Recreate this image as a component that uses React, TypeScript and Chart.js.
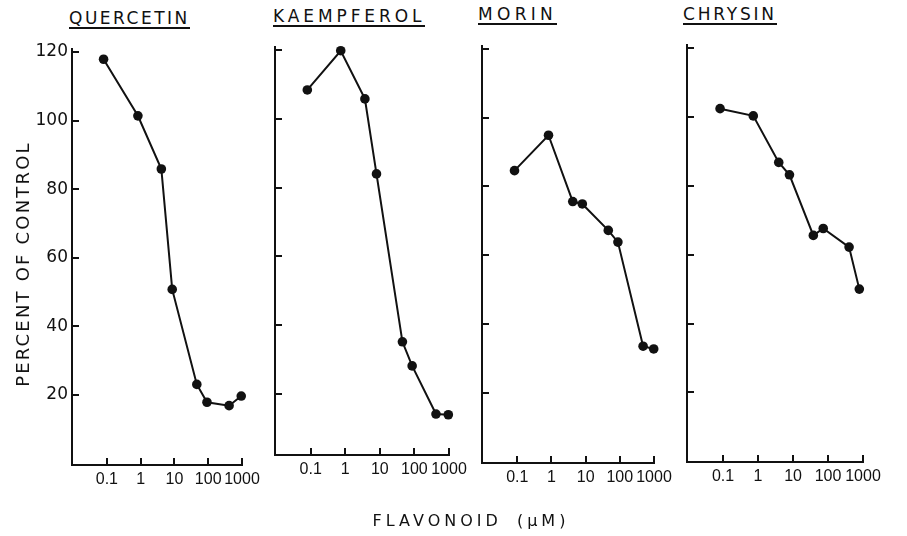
import React, { useEffect, useRef } from "react";
import { Chart, registerables } from "chart.js";

Chart.register(...registerables);

// ---- data ----
const panelTitles = ["QUERCETIN", "KAEMPFEROL", "MORIN", "CHRYSIN"];
const quercetinX = [0.08, 0.83, 4.1, 8.6, 46, 92, 415, 950];
const quercetinY = [117.9, 101.4, 85.9, 50.8, 23.1, 17.9, 16.9, 19.7];
const kaempferolX = [0.08, 0.74, 3.7, 8.0, 45, 86, 420, 955];
const kaempferolY = [108.4, 119.8, 105.8, 84.0, 35.2, 28.2, 14.2, 14.0];
const morinX = [0.083, 0.82, 4.2, 8.0, 46, 88, 480, 980];
const morinY = [84.6, 94.9, 75.6, 74.9, 67.2, 63.8, 33.5, 32.7];
const chrysinX = [0.082, 0.73, 3.9, 7.9, 38, 73, 400, 785];
const chrysinY = [102.4, 100.3, 86.8, 83.2, 65.6, 67.6, 62.2, 50.0];
const xTickValues = [0.1, 1, 10, 100, 1000];
const xTickLabels = ["0.1", "1", "10", "100", "1000"];
const yTickValues = [20, 40, 60, 80, 100, 120];
const yTickLabels = ["20", "40", "60", "80", "100", "120"];
const yAxisTitle = "PERCENT OF CONTROL";
const xAxisTitle = "FLAVONOID (\u03BCM)";

const SERIES_X = [quercetinX, kaempferolX, morinX, chrysinX];
const SERIES_Y = [quercetinY, kaempferolY, morinY, chrysinY];

// ---- layout / style ----
const W = 907;
const H = 536;
const X_MIN = 0.0093;
const X_MAX = 1000;
const Y_MAX = 121;
const INK = "#111";
const FONT = "'DejaVu Sans', sans-serif";
const TICK_FONT = "'Liberation Sans', Arial, sans-serif";
const TICK_LEN = 7;

const LAYOUT = [
  { left: 72, right: 242, top: 48.6, bottom: 465, yMin: -0.4, axisW: 72, showY: true },
  { left: 275, right: 449, top: 46.6, bottom: 455, yMin: 2.3, axisW: 20, showY: false },
  { left: 482, right: 654, top: 45.6, bottom: 463, yMin: -0.5, axisW: 20, showY: false },
  { left: 687, right: 863, top: 44.6, bottom: 462, yMin: -0.2, axisW: 20, showY: false },
];

const TITLE_POS = [
  { x: 69, capTop: 12, ls: 2.5 },
  { x: 273, capTop: 10, ls: 3.9 },
  { x: 478, capTop: 8, ls: 4.3 },
  { x: 683, capTop: 8, ls: 2.8 },
];

const RIGHT_PAD = 30;

// inward tick marks, placed with the chart's own scales
const inwardTicks = {
  id: "inwardTicks",
  afterDraw(chart: any) {
    const { ctx, chartArea, scales } = chart;
    const xs = scales.x;
    const ys = scales.y;
    ctx.save();
    ctx.strokeStyle = INK;
    ctx.lineWidth = 2;
    ctx.lineCap = "butt";
    ctx.beginPath();
    xs.ticks.forEach((t: any) => {
      const px = Math.round(xs.getPixelForValue(t.value));
      ctx.moveTo(px, chartArea.bottom);
      ctx.lineTo(px, chartArea.bottom - TICK_LEN);
    });
    ys.ticks.forEach((t: any) => {
      const py = Math.round(ys.getPixelForValue(t.value));
      ctx.moveTo(chartArea.left, py);
      ctx.lineTo(chartArea.left + TICK_LEN, py);
    });
    ctx.stroke();
    ctx.restore();
  },
};

function Panel({ idx }: { idx: number }) {
  const ref = useRef<HTMLCanvasElement | null>(null);
  const L = LAYOUT[idx];
  const canvasLeft = L.left - L.axisW;
  const canvasWidth = L.right + RIGHT_PAD - canvasLeft;

  useEffect(() => {
    if (!ref.current) return;
    const xs = SERIES_X[idx];
    const ys = SERIES_Y[idx];
    const chart = new Chart(ref.current, {
      type: "line",
      data: {
        datasets: [
          {
            data: xs.map((x, i) => ({ x, y: ys[i] })),
            borderColor: INK,
            borderWidth: 2,
            pointRadius: 4.8,
            pointHoverRadius: 4.8,
            pointBackgroundColor: INK,
            pointBorderColor: INK,
            pointBorderWidth: 0,
            tension: 0,
            fill: false,
            clip: false as any,
          },
        ],
      },
      plugins: [inwardTicks],
      options: {
        responsive: false,
        animation: false,
        devicePixelRatio: 1,
        events: [],
        layout: { padding: { top: L.top, right: RIGHT_PAD, bottom: 0, left: 0 } },
        plugins: {
          legend: { display: false },
          tooltip: { enabled: false },
          title: { display: false },
        },
        scales: {
          x: {
            type: "logarithmic",
            position: "bottom",
            min: X_MIN,
            max: X_MAX,
            afterBuildTicks: (s: any) => {
              s.ticks = xTickValues.map((v) => ({ value: v }));
            },
            afterFit: (s: any) => {
              s.height = H - L.bottom;
            },
            ticks: {
              autoSkip: false,
              maxRotation: 0,
              minRotation: 0,
              padding: 5,
              color: INK,
              font: { family: TICK_FONT, size: 16 },
              callback: (_v: any, i: number) => xTickLabels[i],
            },
            grid: { display: false, drawTicks: false, tickLength: 0 },
            border: { display: true, color: INK, width: 2 },
          },
          y: {
            type: "linear",
            position: "left",
            min: L.yMin,
            max: Y_MAX,
            afterBuildTicks: (s: any) => {
              s.ticks = yTickValues.map((v) => ({ value: v }));
            },
            afterFit: (s: any) => {
              s.width = L.axisW;
            },
            ticks: {
              padding: 4,
              color: INK,
              font: { family: FONT, size: 17 },
              callback: (_v: any, i: number) => (L.showY ? yTickLabels[i] : ""),
            },
            grid: { display: false, drawTicks: false, tickLength: 0 },
            border: { display: true, color: INK, width: 2 },
          },
        },
      } as any,
    });
    return () => chart.destroy();
  }, [idx]);

  return (
    <canvas
      ref={ref}
      width={canvasWidth}
      height={H}
      style={{ position: "absolute", left: canvasLeft, top: 0, width: canvasWidth, height: H }}
    />
  );
}

export default function App() {
  return (
    <div
      style={{
        position: "fixed",
        left: 0,
        top: 0,
        width: W,
        height: H,
        background: "#fff",
        overflow: "hidden",
        fontFamily: FONT,
        color: INK,
      }}
    >
      {panelTitles.map((t, i) => (
        <div
          key={t}
          style={{
            position: "absolute",
            left: TITLE_POS[i].x,
            top: TITLE_POS[i].capTop - 2,
            fontSize: 17,
            lineHeight: "17px",
            letterSpacing: TITLE_POS[i].ls,
            whiteSpace: "nowrap",
          }}
        >
          <span style={{ display: "inline-block", borderBottom: `2px solid ${INK}` }}>{t}</span>
        </div>
      ))}
      {[0, 1, 2, 3].map((i) => (
        <Panel key={i} idx={i} />
      ))}
      <div
        style={{
          position: "absolute",
          left: 23 - 150,
          top: 264 - 9,
          width: 300,
          height: 18,
          lineHeight: "18px",
          fontSize: 18,
          letterSpacing: 2.2,
          textAlign: "center",
          whiteSpace: "nowrap",
          transform: "rotate(-90deg)",
        }}
      >
        {yAxisTitle}
      </div>
      <div
        style={{
          position: "absolute",
          left: 471 - 150,
          top: 513,
          width: 300,
          fontSize: 16,
          lineHeight: "16px",
          letterSpacing: 4,
          wordSpacing: 6,
          textAlign: "center",
          whiteSpace: "nowrap",
        }}
      >
        {xAxisTitle}
      </div>
    </div>
  );
}
